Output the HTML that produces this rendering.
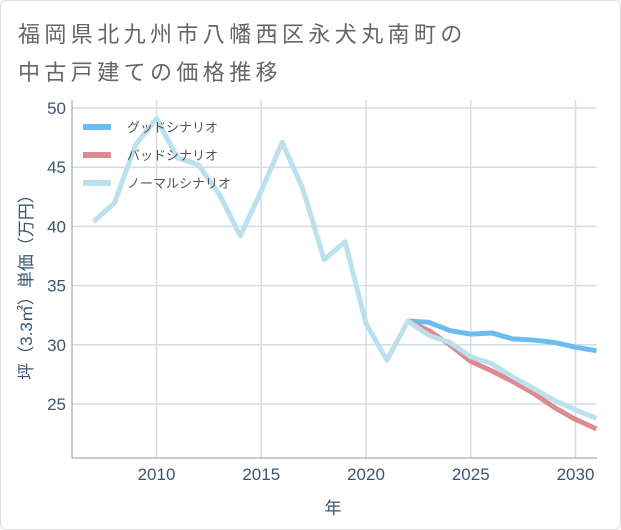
<!DOCTYPE html>
<html><head><meta charset="utf-8"><style>
body{margin:0;background:#fff;}
#wrap{position:relative;width:621px;height:530px;overflow:hidden;font-family:"Liberation Sans","Noto Sans CJK JP",sans-serif;}
#frame{position:absolute;left:0;top:0;width:619px;height:528px;border:1px solid #ddd;border-radius:6px;}
.t{position:absolute;left:18px;font-size:22px;letter-spacing:4.4px;color:#666;white-space:nowrap;}
</style></head><body>
<div id="wrap">
<div id="frame"></div>
<div class="t" style="top:17px">福岡県北九州市八幡西区永犬丸南町の</div>
<div class="t" style="top:55px">中古戸建ての価格推移</div>
<svg id="svg" width="621" height="530" style="position:absolute;left:0;top:0"></svg>
</div>
<script>
const years=[2007,2008,2009,2010,2011,2012,2013,2014,2015,2016,2017,2018,2019,2020,2021,2022,2023,2024,2025,2026,2027,2028,2029,2030,2031];
const normal=[40.4,42.0,46.9,49.1,45.8,45.2,42.7,39.2,43.0,47.1,43.1,37.2,38.7,31.8,28.7,32.0,30.8,30.2,29.0,28.4,27.3,26.3,25.3,24.5,23.8];
const futureYears=[2022,2023,2024,2025,2026,2027,2028,2029,2030,2031];
const good=[32.0,31.9,31.2,30.9,31.0,30.5,30.4,30.2,29.8,29.5];
const bad=[32.0,31.2,30.0,28.6,27.8,26.9,25.9,24.7,23.7,22.9];
const xTicks=[2010,2015,2020,2025,2030];
const yTicks=[25,30,35,40,45,50];
const NS="http://www.w3.org/2000/svg";
const L=72,R=597,T=100,B=458;
const x=v=>156.5+(v-2010)*20.95;
const y=v=>108-(v-50)*11.84;
const svg=document.getElementById('svg');
function mk(tag,attrs){const e=document.createElementNS(NS,tag);for(const k in attrs)e.setAttribute(k,attrs[k]);svg.appendChild(e);return e;}
xTicks.forEach(t=>{const g=mk('line',{x1:x(t),x2:x(t),y1:T,y2:B,stroke:'#d3dde6','stroke-width':1.5});


const lb=mk('text',{x:x(t),y:480,'text-anchor':'middle','font-size':17,fill:'#3b5570','font-family':'Liberation Sans, sans-serif'});lb.textContent=t;

});
yTicks.forEach(t=>{const g=mk('line',{x1:L,x2:R,y1:y(t),y2:y(t),stroke:'#d3dde6','stroke-width':1.5});


const lb=mk('text',{x:66,y:y(t)+6,'text-anchor':'end','font-size':17,fill:'#3b5570','font-family':'Liberation Sans, sans-serif'});lb.textContent=t;

});
const ax=mk('path',{d:`M${L},${T} V${B} H${R}`,stroke:'#999',fill:'none','stroke-width':1});


function series(xs,vs,color,name){const p=mk('polyline',{points:xs.map((t,i)=>x(t)+','+y(vs[i])).join(' '),fill:'none',stroke:color,'stroke-width':5,'stroke-linejoin':'round'});

}
series(futureYears,good,'#6bbcf0','good-scenario-line');
series(futureYears,bad,'#dd8a90','bad-scenario-line');
series(years,normal,'#bde0ee','normal-scenario-line');
const leg=[['グッドシナリオ','#6bbcf0'],['バッドシナリオ','#dd8a90'],['ノーマルシナリオ','#bde0ee']];
leg.forEach((l,i)=>{const yy=127+i*28;
const ln=mk('line',{x1:83,x2:111,y1:yy,y2:yy,stroke:l[1],'stroke-width':6});


const tx=mk('text',{x:127,y:yy+5,'font-size':13,fill:'#555','font-family':'Liberation Sans, Noto Sans CJK JP, sans-serif'});tx.textContent=l[0];

});
const yt=mk('text',{x:0,y:0,'font-size':17,fill:'#3b5570','text-anchor':'middle',transform:'translate(32,283) rotate(-90)','font-family':'Liberation Sans, Noto Sans CJK JP, sans-serif'});yt.textContent='坪（3.3㎡）単価（万円）';


const xt=mk('text',{x:333,y:514,'font-size':17,fill:'#3b5570','text-anchor':'middle','font-family':'Liberation Sans, Noto Sans CJK JP, sans-serif'});xt.textContent='年';


</script>
</body></html>
